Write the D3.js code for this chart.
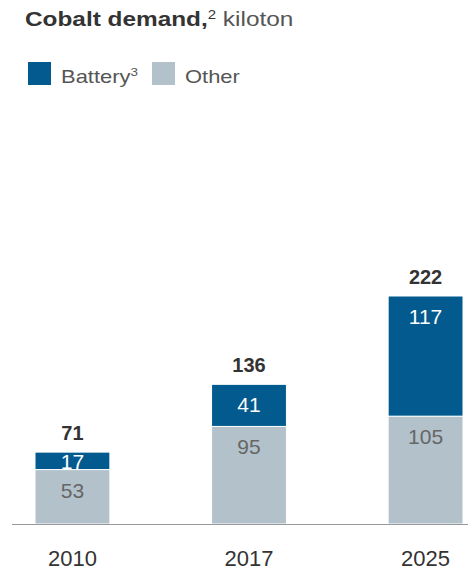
<!DOCTYPE html>
<html lang="en">
  <head>
    <meta charset="UTF-8" />
    <style>
      body {
        margin: 0;
        background: #fff;
      }
      svg {
        font-family: "Liberation Sans", Arial, Helvetica, sans-serif;
      }
    </style>
    <script src="https://d3js.org/d3.v7.min.js"></script>
    <title>Cobalt demand</title>
  </head>
  <body>
    <script>
      // data
      var years = ["2010", "2017", "2025"];
      var battery = [17, 41, 117];
      var other = [53, 95, 105];
      var totals = [71, 136, 222];
      var seriesNames = ["Battery", "Other"];

      var width = 468,
        height = 570;
      var colors = { Battery: "#035a8e", Other: "#b3c1cb" };

      var svg = d3
        .select("body")
        .append("svg")
        .attr("width", width)
        .attr("height", height);

      // title
      var title = svg
        .append("text")
        .attr("transform", "translate(25,26) scale(1.25,1)")
        .style("font-size", "19.5px");
      title
        .append("tspan")
        .attr("fill", "#333")
        .style("font-weight", "bold")
        .text("Cobalt demand,");
      title
        .append("tspan")
        .attr("fill", "#333")
        .attr("dy", -7)
        .style("font-size", "12px")
        .text("2");
      title
        .append("tspan")
        .attr("fill", "#555")
        .attr("dy", 7)
        .text(" kiloton");

      // legend
      var legendX = { Battery: 28, Other: 152 };
      var legend = svg
        .selectAll(".legend")
        .data(seriesNames)
        .enter()
        .append("g")
        .attr("class", "legend")
        .attr("transform", function (d) {
          return "translate(" + legendX[d] + ",62)";
        });
      legend
        .append("rect")
        .attr("width", 23)
        .attr("height", 23)
        .attr("fill", function (d) {
          return colors[d];
        });
      var legendText = legend
        .append("text")
        .attr("transform", "translate(33,21) scale(1.22,1)")
        .attr("fill", "#555")
        .style("font-size", "18px");
      legendText.append("tspan").text(function (d) {
        return d;
      });
      legendText
        .filter(function (d) {
          return d === "Battery";
        })
        .append("tspan")
        .attr("dy", -7)
        .style("font-size", "11px")
        .text("3");

      // scales
      var x = d3
        .scaleBand()
        .domain(years)
        .range([35, 463])
        .paddingInner(0.576)
        .paddingOuter(0);

      var y = d3
        .scaleLinear()
        .domain([0, d3.max(totals)])
        .range([524, 296]);

      var rows = years.map(function (yr, i) {
        return { year: yr, Battery: battery[i], Other: other[i], total: totals[i] };
      });

      var stack = d3.stack().keys(["Other", "Battery"]);
      var layers = stack(rows);

      var layer = svg
        .selectAll(".layer")
        .data(layers)
        .enter()
        .append("g")
        .attr("class", "layer");

      layer
        .selectAll("rect")
        .data(function (d) {
          return d.map(function (p) {
            return { key: d.key, y0: p[0], y1: p[1], year: p.data.year };
          });
        })
        .enter()
        .append("rect")
        .attr("x", function (d) {
          return x(d.year);
        })
        .attr("width", x.bandwidth())
        .attr("y", function (d) {
          return y(d.y1);
        })
        .attr("height", function (d) {
          return y(d.y0) - y(d.y1);
        })
        .attr("fill", function (d) {
          return colors[d.key];
        })
        .attr("stroke", "#fff")
        .attr("stroke-width", 1);

      // segment values
      layer
        .selectAll(".seg")
        .data(function (d) {
          return d.map(function (p) {
            return { key: d.key, y0: p[0], y1: p[1], year: p.data.year };
          });
        })
        .enter()
        .append("text")
        .attr("class", "seg")
        .attr("x", function (d) {
          return x(d.year) + x.bandwidth() / 2;
        })
        .attr("y", function (d) {
          var top = y(d.y1),
            bottom = y(d.y0);
          return Math.min(top + 28, (top + bottom) / 2 + 8);
        })
        .attr("text-anchor", "middle")
        .attr("fill", function (d) {
          return d.key === "Battery" ? "#fff" : "#666";
        })
        .style("font-size", "21px")
        .text(function (d) {
          return d.y1 - d.y0;
        });

      // totals
      svg
        .selectAll(".total")
        .data(rows)
        .enter()
        .append("text")
        .attr("class", "total")
        .attr("x", function (d) {
          return x(d.year) + x.bandwidth() / 2;
        })
        .attr("y", function (d) {
          return y(d.Battery + d.Other) - 12;
        })
        .attr("text-anchor", "middle")
        .attr("fill", "#333")
        .style("font-size", "20px")
        .style("font-weight", "bold")
        .text(function (d) {
          return d.total;
        });

      // baseline
      svg
        .append("line")
        .attr("x1", 12)
        .attr("x2", width)
        .attr("y1", y(0) + 0.5)
        .attr("y2", y(0) + 0.5)
        .attr("stroke", "#999")
        .attr("stroke-width", 1);

      // x axis
      var xAxis = svg
        .append("g")
        .attr("transform", "translate(0," + y(0) + ")")
        .call(d3.axisBottom(x).tickSize(0).tickPadding(26));
      xAxis.select(".domain").remove();
      xAxis
        .selectAll("text")
        .attr("fill", "#333")
        .style("font-size", "22px")
        .style("font-family", "'Liberation Sans', Arial, sans-serif");
    </script>
  </body>
</html>
